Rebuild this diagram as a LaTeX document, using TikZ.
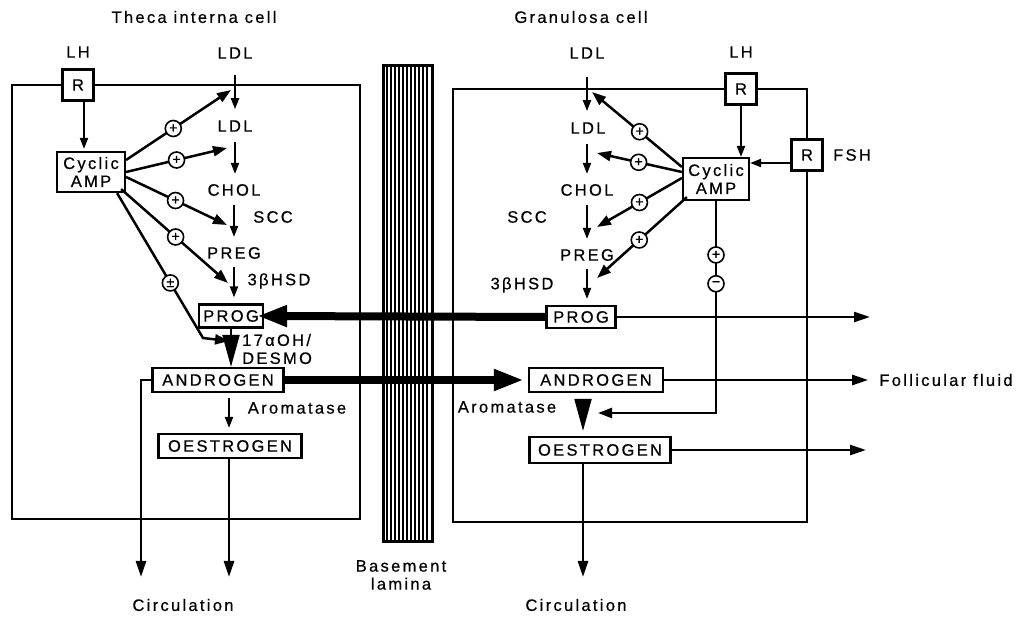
\documentclass[tikz,border=0pt]{standalone}
\usepackage{fontspec}
\setmainfont{Liberation Sans}[LetterSpace=14,FakeBold=0.6]
\newfontfamily\plainsf{Liberation Sans}[FakeBold=1.5]
\usetikzlibrary{arrows.meta}
\begin{document}
\begin{tikzpicture}[x=1pt,y=-1pt,
  lbl/.style={font=\fontsize{16.5}{18}\selectfont, inner sep=2pt},
  box/.style={lbl, draw, line width=2.2pt, minimum height=24pt, fill=white},
  rbox/.style={lbl, draw, line width=3pt, minimum width=31pt, minimum height=31pt, fill=white},
  sgn/.style={circle, draw, line width=1.6pt, minimum size=16pt, inner sep=0pt, fill=white, font=\plainsf\fontsize{14}{14}\selectfont},
  cell/.style={line width=2.8pt},
  arr/.style={line width=2pt, -{Triangle[length=11pt,width=8pt]}},
  act/.style={line width=2.5pt, -{Triangle[length=14pt,width=10pt]}},
  outarr/.style={line width=2.5pt, -{Triangle[length=16pt,width=10pt]}},
  fat/.style={line width=8pt, -{Triangle[length=30pt,width=20pt]}},
  big/.style={line width=2pt, -{Triangle[length=32pt,width=17pt]}},
]
\useasboundingbox (0,0) rectangle (1021,617);

% ---------- basement lamina ----------
\foreach \xx in {387,391,...,429} \draw[line width=1.2pt] (\xx,66) -- (\xx,542);
\draw[line width=3pt] (383,66) rectangle (432,542);
\node[lbl, align=center] (bm) at (401,575) {Basement\\lamina};

% ---------- titles ----------
\node[lbl] (tTitle) at (194,17) {Theca interna cell};
\node[lbl] (gTitle) at (581,17) {Granulosa cell};

% ---------- left (theca) cell ----------
\node[lbl] (lLH) at (78,52) {LH};
\node[rbox] (lR) at (78,85) {R};
\draw[cell] (lR.west) -- (12,85) -- (12,519) -- (360,519) -- (360,85) -- (lR.east);

\node[lbl] (lLDL0) at (235,53) {LDL};
\node[lbl] (lLDL1) at (235,126) {LDL};
\node[lbl] (lCHOL) at (234,190) {CHOL};
\node[lbl] (lSCC) at (273,217) {SCC};
\node[lbl] (lPREG) at (234,253) {PREG};
\node[lbl] (lHSD) at (279,281) {3βHSD};
\node[box, minimum width=64pt, minimum height=23pt] (lPROG) at (231,316) {PROG};
\node[lbl, align=left, anchor=west] (l17) at (240,349) {17αOH/\\DESMO};
\node[box, minimum width=131pt] (lAND) at (218,380) {ANDROGEN};
\node[lbl] (lArom) at (297,408) {Aromatase};
\node[box, minimum width=143pt] (lOES) at (230,446) {OESTROGEN};
\node[box, align=center, minimum width=68pt, minimum height=40pt, inner sep=1pt] (lCAMP) at (91,172) {Cyclic\\AMP};
\node[lbl] (lCirc) at (183,605) {Circulation};

\coordinate (lj1) at (231,90);
\coordinate (lj2) at (227,148);
\coordinate (lj3) at (227,225);
\coordinate (lj4) at (228,283);
\coordinate (lj5b) at (203,338);
\coordinate (lj5) at (229,341);
\coordinate (lc1) at (141,577);
\coordinate (lc2) at (229,577);

\draw[arr, shorten <=14pt, shorten >=9pt] (lLDL0.south) -- (lLDL1.north);
\draw[arr, shorten <=8pt, shorten >=8pt] (lLDL1.south) -- (lLDL1.south |- lCHOL.north);
\draw[arr, shorten <=7pt, shorten >=8pt] (lCHOL.south) -- (lCHOL.south |- lPREG.north);
\draw[arr, shorten <=6pt, shorten >=6pt] (lPREG.south) -- (lPREG.south |- lPROG.north);
\draw[big] (lPROG.south) -- (lAND.north -| lPROG.south);
\draw[arr, shorten <=5pt, shorten >=5pt] ([xshift=11pt]lAND.south) -- ([xshift=11pt]lAND.south |- lOES.north);

\draw[arr, shorten >=2pt] ([xshift=6pt]lR.south) -- ([xshift=-7pt]lCAMP.north);

\draw[act] ([yshift=12pt]lCAMP.east) -- node[sgn,pos=.45]{+} (lj1);
\draw[act] (lCAMP.east) -- node[sgn,pos=.5]{+} (lj2);
\draw[act] ([yshift=-5pt]lCAMP.east) -- node[sgn,pos=.49]{+} (lj3);
\draw[act] ([xshift=-5pt,yshift=4pt]lCAMP.south east) -- node[sgn,pos=.51]{+} (lj4);
\draw[act] ([xshift=-9pt]lCAMP.south east) -- node[sgn,pos=.62]{±} (lj5b) -- (lj5);

\draw[outarr] (lAND.west) -- (lAND.west -| lc1) -- (lc1);
\draw[outarr] (lOES.south -| lc2) -- (lc2);

% ---------- right (granulosa) cell ----------
\node[lbl] (rLH) at (741,52) {LH};
\node[rbox] (rR) at (741,89) {R};
\node[rbox] (rFSHR) at (807,155) {R};
\node[lbl] (rFSH) at (852,155) {FSH};
\draw[cell] (rR.west) -- (453,89) -- (453,522) -- (807,522) -- (rFSHR.south);
\draw[cell] (rR.east) -- (807,89) -- (rFSHR.north);

\node[lbl] (rLDL0) at (587,53) {LDL};
\node[lbl] (rLDL1) at (588,128) {LDL};
\node[lbl] (rCHOL) at (587,190) {CHOL};
\node[lbl] (rSCC) at (527,217) {SCC};
\node[lbl] (rPREG) at (587,255) {PREG};
\node[lbl] (rHSD) at (522,285) {3βHSD};
\node[box, minimum width=69pt, minimum height=22pt] (rPROG) at (581,317) {PROG};
\node[box, minimum width=134pt] (rAND) at (596,380) {ANDROGEN};
\node[lbl] (rArom) at (507,407) {Aromatase};
\node[box, minimum width=141pt, minimum height=26pt] (rOES) at (600,450) {OESTROGEN};
\node[box, align=center, minimum width=66pt, minimum height=42pt, inner sep=1pt] (rCAMP) at (716,179) {Cyclic\\AMP};
\node[lbl] (rCirc) at (576,605) {Circulation};
\node[lbl] (ff) at (946,380) {Follicular fluid};

\coordinate (rj1) at (592,92);
\coordinate (rj2) at (597,153);
\coordinate (rj3) at (597,227);
\coordinate (rj4) at (597,278);
\coordinate (rj6) at (598,413);
\coordinate (rc) at (583,577);
\coordinate (rp) at (870,317);
\coordinate (ro) at (866,450);

\draw[arr, shorten <=16pt, shorten >=9pt] (rLDL0.south) -- (rLDL0.south |- rLDL1.north);
\draw[arr, shorten <=8pt, shorten >=8pt] (rLDL0.south |- rLDL1.south) -- (rLDL0.south |- rCHOL.north);
\draw[arr, shorten <=7pt, shorten >=8pt] (rLDL0.south |- rCHOL.south) -- (rLDL0.south |- rPREG.north);
\draw[arr, shorten <=6pt, shorten >=6pt] (rLDL0.south |- rPREG.south) -- (rLDL0.south |- rPROG.north);
\draw[big, shorten <=7pt, shorten >=5pt] ([xshift=-13pt]rAND.south) -- ([xshift=-13pt]rAND.south |- rOES.north);

\draw[arr] (rR.south) -- (rR.south |- rCAMP.north);
\draw[arr] ([yshift=-8pt]rFSHR.west) -- ([yshift=-8pt]rFSHR.west -| rCAMP.east);

\draw[act] ([yshift=12pt]rCAMP.west) -- node[sgn,pos=.47]{+} (rj1);
\draw[act] ([yshift=7pt]rCAMP.west) -- node[sgn,pos=.51]{+} (rj2);
\draw[act] ([yshift=1pt]rCAMP.west) -- node[sgn,pos=.5]{+} (rj3);
\draw[act] ([xshift=5pt,yshift=4pt]rCAMP.south west) -- node[sgn,pos=.53]{+} (rj4);
\draw[act] (rCAMP.south) -- node[sgn,pos=.254]{+} node[sgn,pos=.39]{−} (rCAMP.south |- rj6) -- (rj6);

\draw[outarr] (rOES.south -| rc) -- (rc);
\draw[outarr] (rPROG.east) -- (rp);
\draw[outarr, shorten >=9pt] (rAND.east) -- (ff.west);
\draw[outarr] (rOES.east) -- (ro);

% ---------- transfers across the lamina ----------
\draw[fat, shorten >=-7pt] (rPROG.west) -- (lPROG.east);
\draw[fat, shorten >=4pt] (lAND.east) -- (rAND.west);
\end{tikzpicture}
\end{document}
